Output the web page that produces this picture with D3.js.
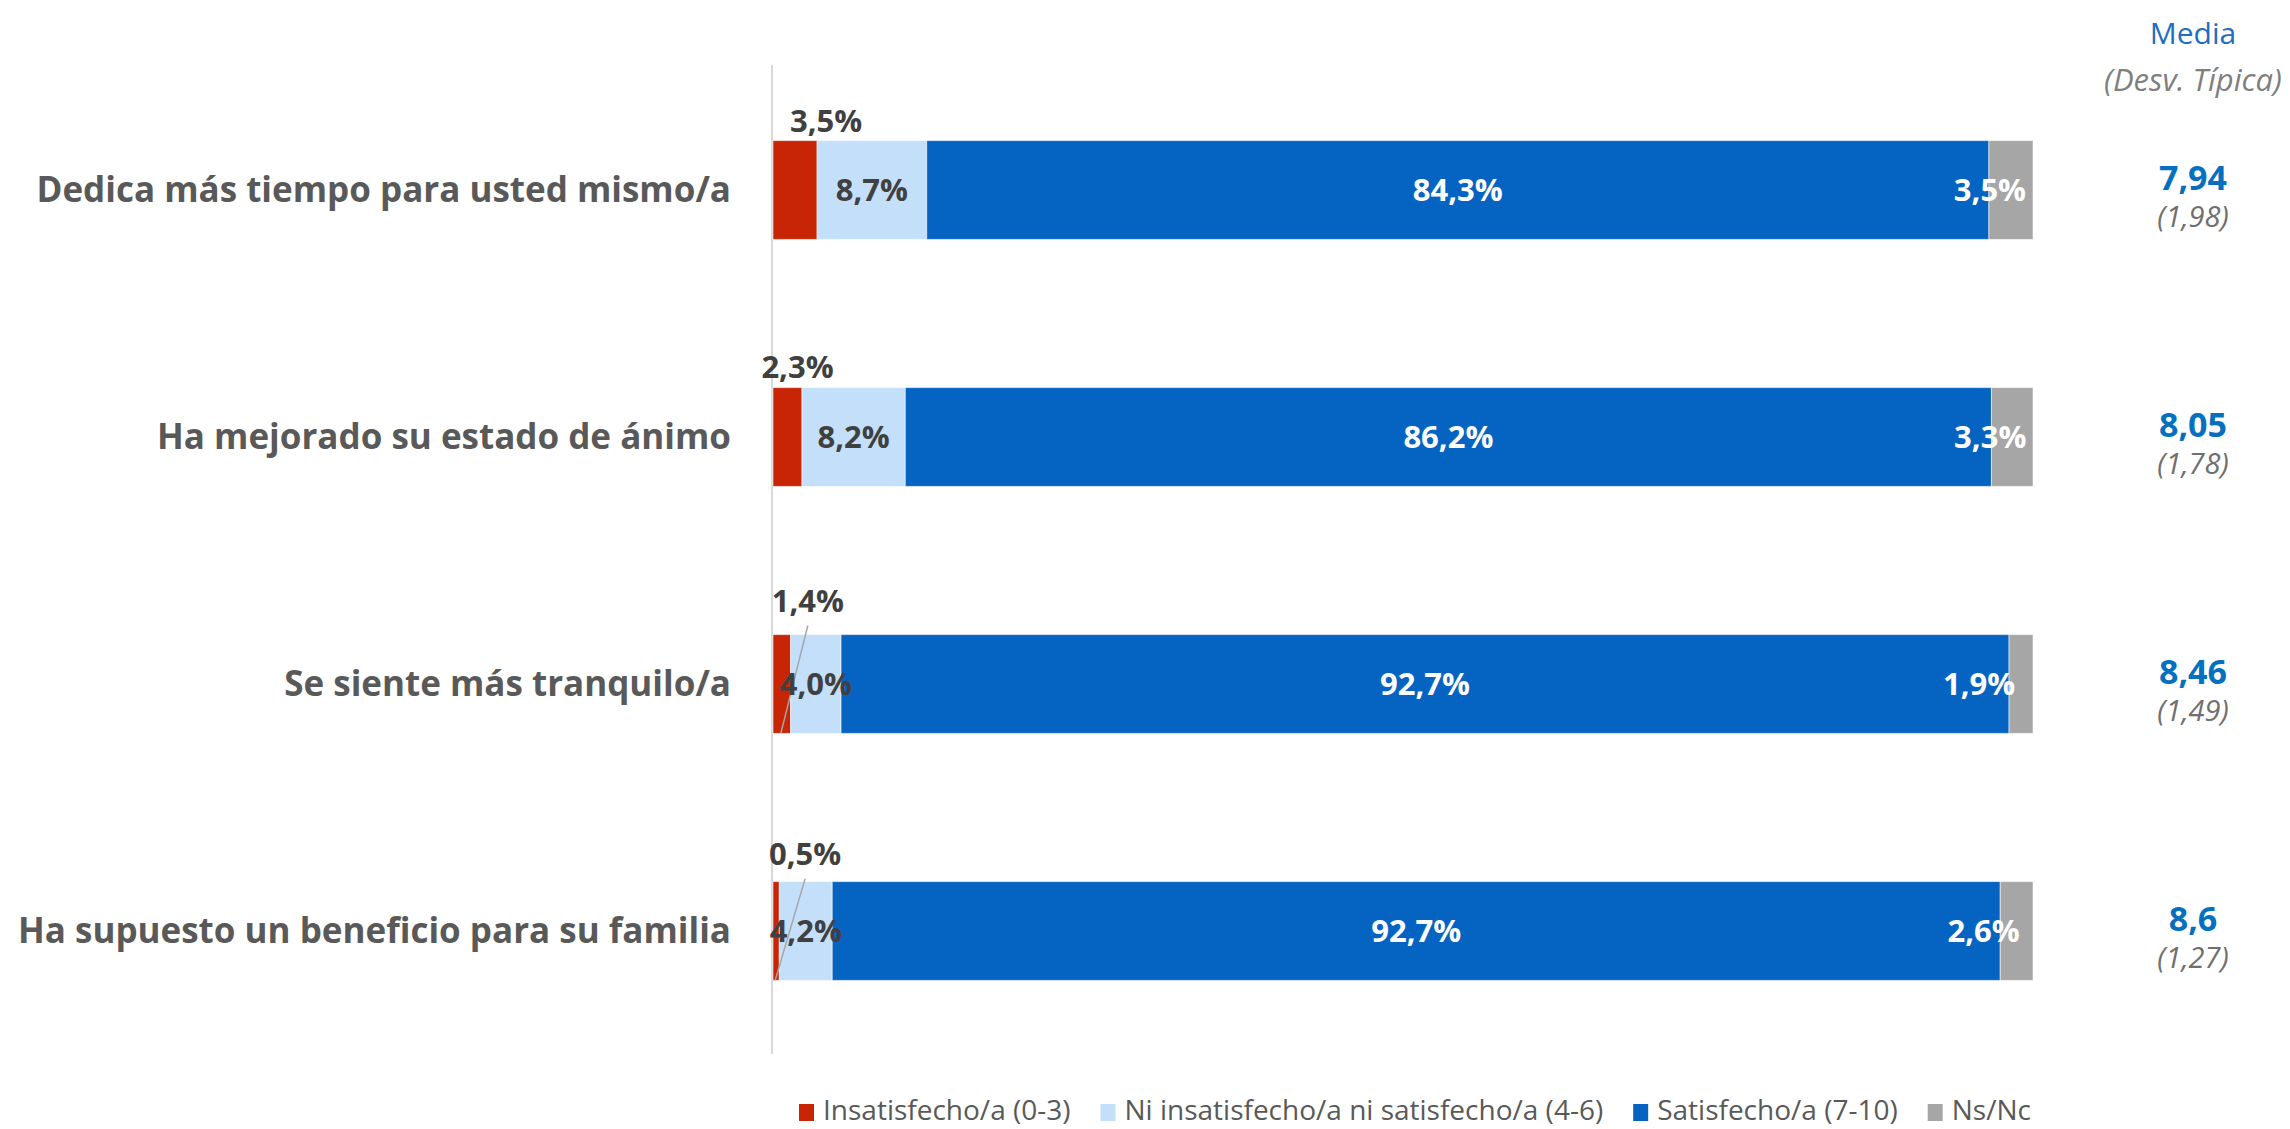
<!DOCTYPE html>
<html lang="es">
<head>
<meta charset="utf-8">
<title>Satisfacción</title>
<script src="https://cdn.jsdelivr.net/npm/d3@7"></script>
<style>
  html, body { margin: 0; padding: 0; background: #fff; }
  svg { display: block; }
  text { font-family: "Open Sans", "Noto Sans", sans-serif; }
</style>
</head>
<body>
<svg id="chart" width="2290" height="1129"></svg>
<script>
// Items asked about
const categories = [
  "Dedica más tiempo para usted mismo/a",
  "Ha mejorado su estado de ánimo",
  "Se siente más tranquilo/a",
  "Ha supuesto un beneficio para su familia"
];

// Response groups (stacking order, left to right)
const seriesNames = [
  "Insatisfecho/a (0-3)",
  "Ni insatisfecho/a ni satisfecho/a (4-6)",
  "Satisfecho/a (7-10)",
  "Ns/Nc"
];

// Percentages per item, one array per response group
const insatisfecho = [3.5, 2.3, 1.4, 0.5];
const neutral      = [8.7, 8.2, 4.0, 4.2];
const satisfecho   = [84.3, 86.2, 92.7, 92.7];
const nsnc         = [3.5, 3.3, 1.9, 2.6];

// Mean score and standard deviation per item
const medias = ["7,94", "8,05", "8,46", "8,6"];
const desviaciones = ["(1,98)", "(1,78)", "(1,49)", "(1,27)"];

const colors = ["#C82506", "#C4DFF9", "#0563C1", "#A6A6A6"];
const labelColors = ["#404040", "#404040", "#ffffff", "#ffffff"];

const svg = d3.select("#chart");

const rows = categories.map((c, i) => ({
  cat: c,
  [seriesNames[0]]: insatisfecho[i],
  [seriesNames[1]]: neutral[i],
  [seriesNames[2]]: satisfecho[i],
  [seriesNames[3]]: nsnc[i]
}));

const stack = d3.stack().keys(seriesNames);
const layers = stack(rows);

const x = d3.scaleLinear().domain([0, 100]).range([773, 2033]);
const y = d3.scaleBand()
  .domain(categories)
  .range([66.5, 66.5 + 4 * 247])
  .paddingInner(0.6)
  .paddingOuter(0.3);

const fmt = v => d3.format(".1f")(v).replace(".", ",") + "%";

// Vertical baseline at zero
svg.append("line")
  .attr("x1", x(0) - 1).attr("x2", x(0) - 1)
  .attr("y1", 65).attr("y2", 1054)
  .attr("stroke", "#D9D9D9").attr("stroke-width", 2);

// Stacked bar segments
const g = svg.append("g");
layers.forEach((layer, si) => {
  g.selectAll(null)
    .data(layer)
    .join("rect")
    .attr("x", d => x(d[0]))
    .attr("y", d => y(d.data.cat))
    .attr("width", d => x(d[1]) - x(d[0]))
    .attr("height", y.bandwidth())
    .attr("fill", colors[si])
    .attr("stroke", "rgba(255,255,255,0.55)")
    .attr("stroke-width", 1);
});

// Category labels on the left
const catAxis = d3.axisLeft(y).tickSize(0).tickPadding(0);
const axisG = svg.append("g").attr("transform", "translate(731,0)").call(catAxis);
axisG.select(".domain").remove();
axisG.selectAll("text")
  .attr("fill", "#595959")
  .attr("font-size", 35)
  .attr("font-weight", 700)
  .attr("font-family", "'Open Sans', sans-serif")
  .attr("dy", "0.35em");

// Small "insatisfecho" segments get their label above the bar
const outsideNudge = [
  { dx: 31, dy: -19, leader: false },
  { dx: 10, dy: -20, leader: false },
  { dx: 26, dy: -33, leader: true },
  { dx: 29, dy: -27, leader: true }
];
layers[0].forEach((d, i) => {
  const cx = (x(d[0]) + x(d[1])) / 2;
  const top = y(d.data.cat);
  const n = outsideNudge[i];
  if (n.leader) {
    svg.append("line")
      .attr("x1", cx + n.dx).attr("y1", top + n.dy + 24)
      .attr("x2", cx - 1).attr("y2", top + y.bandwidth())
      .attr("stroke", "#A6A6A6").attr("stroke-width", 1.5);
  }
  svg.append("text")
    .attr("x", cx + n.dx)
    .attr("y", top + n.dy)
    .attr("dy", "0.35em")
    .attr("text-anchor", "middle")
    .attr("font-size", 31)
    .attr("font-weight", 700)
    .attr("fill", "#404040")
    .text(fmt(d[1] - d[0]));
});

// Labels inside the other segments
const insideNudge = [
  [0, 0, 0, -21],
  [0, 0, 0, -22],
  [11, 0, 0, -42],
  [0, 0, 0, -33]
];
[1, 2, 3].forEach(si => {
  layers[si].forEach((d, i) => {
    const cx = (x(d[0]) + x(d[1])) / 2 + insideNudge[i][si];
    svg.append("text")
      .attr("x", cx)
      .attr("y", y(d.data.cat) + y.bandwidth() / 2)
      .attr("dy", "0.35em")
      .attr("text-anchor", "middle")
      .attr("font-size", 31)
      .attr("font-weight", 700)
      .attr("fill", labelColors[si])
      .text(fmt(d[1] - d[0]));
  });
});

// Mean / standard deviation column
svg.append("text")
  .attr("x", 2193).attr("y", 33).attr("dy", "0.35em")
  .attr("text-anchor", "middle")
  .attr("font-size", 30)
  .attr("fill", "#1E6EC5")
  .text("Media");
svg.append("text")
  .attr("x", 2193).attr("y", 80).attr("dy", "0.35em")
  .attr("text-anchor", "middle")
  .attr("font-size", 31)
  .attr("font-style", "italic")
  .attr("fill", "#7F7F7F")
  .text("(Desv. Típica)");

categories.forEach((c, i) => {
  const cy = y(c) + y.bandwidth() / 2;
  svg.append("text")
    .attr("x", 2193).attr("y", cy - 12).attr("dy", "0.35em")
    .attr("text-anchor", "middle")
    .attr("font-size", 34)
    .attr("font-weight", 700)
    .attr("fill", "#0570C0")
    .text(medias[i]);
  svg.append("text")
    .attr("x", 2193).attr("y", cy + 27).attr("dy", "0.35em")
    .attr("text-anchor", "middle")
    .attr("font-size", 29)
    .attr("font-style", "italic")
    .attr("fill", "#6F6F6F")
    .text(desviaciones[i]);
});

// Legend along the bottom
const legend = svg.append("g").attr("transform", "translate(799,1110)");
let lx = 0;
seriesNames.forEach((name, i) => {
  const item = legend.append("g").attr("transform", `translate(${lx},0)`);
  item.append("rect")
    .attr("x", 0).attr("y", -6).attr("width", 15).attr("height", 17)
    .attr("fill", colors[i]);
  const t = item.append("text")
    .attr("x", 24).attr("y", 0).attr("dy", "0.35em")
    .attr("font-size", 28)
    .attr("fill", "#595959")
    .text(name);
  lx += 24 + t.node().getComputedTextLength() + 30;
});
</script>
</body>
</html>
